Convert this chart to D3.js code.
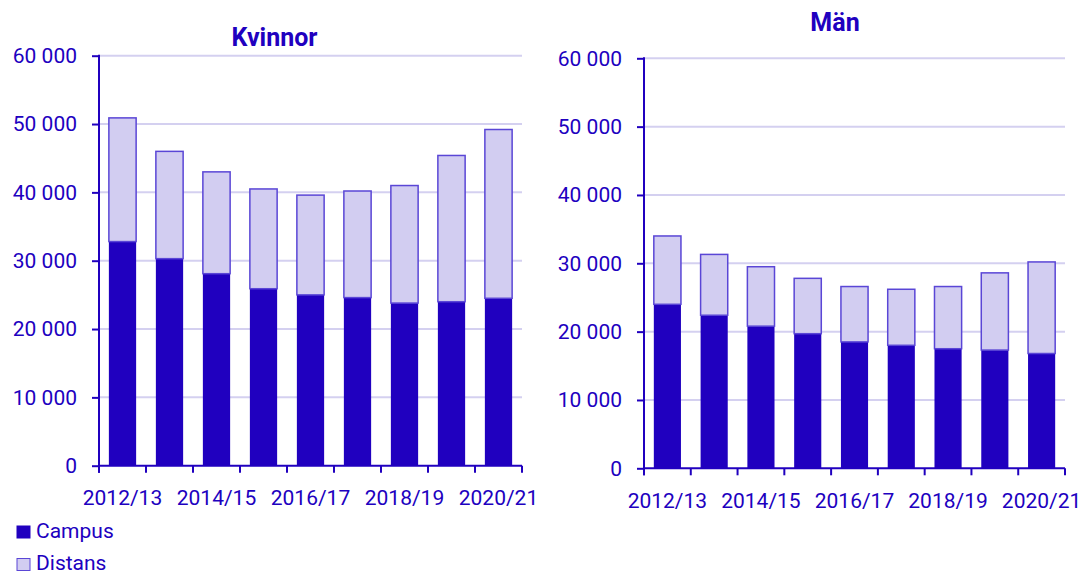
<!DOCTYPE html>
<html>
<head>
<meta charset="utf-8">
<script src="https://cdn.jsdelivr.net/npm/d3@7"></script>
<style>
  body { margin: 0; background: #fff; }
  svg text { font-family: Roboto, "Noto Sans", sans-serif; fill: #2000bf; }
</style>
</head>
<body>
<div id="chart"></div>
<script>
// data
var years = ["2012/13", "2013/14", "2014/15", "2015/16", "2016/17", "2017/18", "2018/19", "2019/20", "2020/21"];
var kvinnorCampus  = [32800, 30300, 28100, 25900, 25000, 24600, 23800, 24000, 24500];
var kvinnorDistans = [18100, 15700, 14900, 14600, 14600, 15600, 17200, 21400, 24700];
var manCampus  = [24000, 22400, 20800, 19700, 18500, 18000, 17500, 17300, 16800];
var manDistans = [10000,  8900,  8700,  8100,  8100,  8200,  9100, 11300, 13400];
var yTicks = [0, 10000, 20000, 30000, 40000, 50000, 60000];
var seriesNames = ["Campus", "Distans"];

var dark = "#2000bf", light = "#d2cdf1", lightStroke = "#5a46d6", grid = "#d4d0f0";
var fmt = d3.formatLocale({decimal: ",", thousands: "\u00a0", grouping: [3], currency: ["", ""]}).format(",d");

var svg = d3.select("#chart").append("svg")
    .attr("width", 1081).attr("height", 571);

var panels = [
  {title: "Kvinnor", campus: kvinnorCampus, distans: kvinnorDistans, left: 99, right: 522, top: 55.7, bottom: 465.7, tx: 274.5, ty: 45.5},
  {title: "Män", campus: manCampus, distans: manDistans, left: 644, right: 1065, top: 58.3, bottom: 468.3, tx: 835, ty: 30.5}
];

panels.forEach(function(p) {
  var rows = years.map(function(y, i) { return {year: y, Campus: p.campus[i], Distans: p.distans[i]}; });
  var stacked = d3.stack().keys(seriesNames)(rows);

  var x = d3.scaleBand().domain(years).range([p.left, p.right]).paddingInner(0.42).paddingOuter(0.21);
  var y = d3.scaleLinear().domain([0, 60000]).range([p.bottom, p.top]);
  var g = svg.append("g");

  // gridlines
  g.selectAll(".grid").data(yTicks.slice(1)).enter().append("line")
      .attr("x1", p.left).attr("x2", p.right)
      .attr("y1", function(d) { return y(d); }).attr("y2", function(d) { return y(d); })
      .style("stroke", grid).style("stroke-width", 2);

  // bars
  g.selectAll(".layer").data(stacked).enter().append("g")
      .each(function(layer) {
        var isCampus = layer.key == "Campus";
        d3.select(this).selectAll("rect").data(layer).enter().append("rect")
          .attr("x", function(d) { return x(d.data.year); })
          .attr("width", x.bandwidth())
          .attr("y", function(d) { return y(d[1]); })
          .attr("height", function(d) { return y(d[0]) - y(d[1]); })
          .style("fill", isCampus ? dark : light)
          .style("stroke", isCampus ? dark : lightStroke)
          .style("stroke-width", isCampus ? 0 : 1.5);
      });

  // y axis
  var yAxis = d3.axisLeft(y).tickValues(yTicks).tickFormat(fmt).tickSize(7).tickPadding(15);
  var ya = g.append("g").attr("transform", "translate(" + p.left + ",0)").call(yAxis);
  ya.select(".domain").remove();
  ya.selectAll("line").style("stroke", dark).style("stroke-width", 2);
  ya.selectAll("text").style("font-size", "21px").style("fill", dark);
  g.append("line").attr("x1", p.left).attr("x2", p.left).attr("y1", p.top - 1).attr("y2", p.bottom + 7)
      .style("stroke", dark).style("stroke-width", 2);

  // x axis
  g.append("line").attr("x1", p.left).attr("x2", p.right).attr("y1", p.bottom).attr("y2", p.bottom)
      .style("stroke", dark).style("stroke-width", 2);
  var step = x.step();
  var bounds = years.map(function(d) { return x(d) - step * 0.21; }).concat([p.right]);
  g.selectAll(".xtick").data(bounds).enter().append("line")
      .attr("x1", function(d) { return d; }).attr("x2", function(d) { return d; })
      .attr("y1", p.bottom).attr("y2", p.bottom + 7)
      .style("stroke", dark).style("stroke-width", 2);
  g.selectAll(".xlabel").data(years.filter(function(d, i) { return i % 2 == 0; })).enter().append("text")
      .attr("x", function(d) { return x(d) + x.bandwidth() / 2; })
      .attr("y", p.bottom + 39.5)
      .attr("text-anchor", "middle")
      .style("font-size", "21px")
      .text(function(d) { return d; });

  // title
  g.append("text").attr("x", p.tx).attr("y", p.ty)
      .attr("text-anchor", "middle")
      .style("font-size", "25px").style("font-weight", "bold")
      .text(p.title);
});

// legend
var legend = svg.append("g");
seriesNames.forEach(function(name, i) {
  var ly = 525.5 + i * 32.5;
  legend.append("rect").attr("x", 17).attr("y", ly + 0.5).attr("width", 13).attr("height", 12)
      .style("fill", i == 0 ? dark : light).style("stroke", i == 0 ? dark : lightStroke).style("stroke-width", 1);
  legend.append("text").attr("x", 36).attr("y", ly + 12)
      .style("font-size", "21px").text(name);
});
</script>
</body>
</html>
